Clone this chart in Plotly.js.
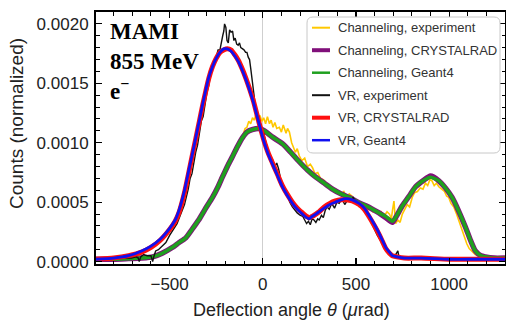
<!DOCTYPE html>
<html>
<head>
<meta charset="utf-8">
<script src="https://cdn.plot.ly/plotly-3.0.1.min.js"></script>
<style>html,body{margin:0;padding:0;background:#fff;}#chart{width:506px;height:322px;}</style>
</head>
<body>
<div id="chart"></div>
<script>
// ---------- data ----------
const legendNames = ["Channeling, experiment","Channeling, CRYSTALRAD","Channeling, Geant4","VR, experiment","VR, CRYSTALRAD","VR, Geant4"];
const xTickVals = [-500, 0, 500, 1000];
const yTickVals = [0, 0.0005, 0.0010, 0.0015, 0.0020];

// Channeling, experiment
const chanExpX = [-880,-800,-720,-650,-600,-560,-520,-490,-470,-450,-430,-410,-390,-370,-350,-330,-310,-295,-280,-265,-250,-235,-220,-205,-190,-175,-160,-145,-130,-118,-105,-95,-85,-75,-65,-55,-45,-35,-25,-15,-5,5,15,25,36,45,55,65,75,89,100,110,125,133,143,155,165,175,185,196,210,225,240,255,267,280,295,310,325,339,355,370,380,392,405,420,435,450,464,480,495,505,517,530,545,560,575,590,606,620,635,650,667,680,690,697,704,710,713,725,737,749,760,775,788,802,815,830,845,860,873,885,897,908,920,932,945,960,975,987,998,1010,1025,1040,1055,1068,1082,1095,1108,1121,1140,1160,1175,1200,1250,1290];
const chanExpY = [0.00002,0.00002,0.00003,0.00003,0.00004,0.00006,0.00009,0.00011,0.00015,0.00017,0.00019,0.00020,0.00024,0.00028,0.00033,0.00039,0.00045,0.00047,0.00053,0.00058,0.00060,0.00068,0.00073,0.00077,0.00083,0.00085,0.00092,0.00095,0.00101,0.00104,0.00107,0.00112,0.00113,0.00118,0.00116,0.00121,0.00119,0.00125,0.00120,0.00123,0.00118,0.00121,0.00116,0.00122,0.00116,0.00119,0.00113,0.00117,0.00112,0.00113,0.00109,0.00115,0.00108,0.00112,0.00109,0.00100,0.00096,0.00092,0.00095,0.00089,0.00085,0.00087,0.00080,0.00082,0.00079,0.00074,0.00075,0.00070,0.00069,0.00067,0.00064,0.00063,0.00060,0.00061,0.00058,0.00057,0.00059,0.00054,0.00057,0.00055,0.00050,0.00052,0.00046,0.00049,0.00045,0.00043,0.00045,0.00042,0.00043,0.00040,0.00042,0.00038,0.00042,0.00040,0.00036,0.00044,0.00051,0.00038,0.00032,0.00035,0.00033,0.00040,0.00043,0.00048,0.00046,0.00054,0.00058,0.00059,0.00062,0.00061,0.00066,0.00064,0.00069,0.00068,0.00064,0.00066,0.00063,0.00061,0.00059,0.00055,0.00054,0.00049,0.00046,0.00040,0.00033,0.00026,0.00020,0.00015,0.00011,0.00009,0.00006,0.00005,0.00005,0.00004,0.00003,0.00003];

// Channeling simulations
const chanSimX = [-895,-800,-720,-650,-591,-540,-484,-450,-413,-380,-344,-310,-270,-240,-217,-190,-164,-135,-110,-85,-57,-21,9,50,107,150,196,240,285,330,374,420,464,510,553,590,624,660,696,720,749,785,820,860,900,945,980,1016,1050,1088,1115,1141,1170,1195,1240,1300];
const chanCrystalradY = [0.00002,0.00002,0.000025,0.00003,0.00004,0.00007,0.00012,0.00016,0.00020,0.00027,0.00035,0.00044,0.00054,0.00063,0.00071,0.00080,0.00088,0.00097,0.00104,0.00109,0.00111,0.00112,0.00110,0.00105,0.00099,0.00092,0.00084,0.00077,0.00071,0.00066,0.00061,0.00057,0.00054,0.00050,0.00047,0.00044,0.00041,0.00037,0.00033,0.00039,0.00047,0.00055,0.00063,0.00068,0.00072,0.00068,0.00062,0.00054,0.00043,0.00029,0.00018,0.00009,0.00005,0.00004,0.00003,0.00003];
const chanGeant4Y = [0.00002,0.00002,0.000025,0.00003,0.00004,0.00007,0.00012,0.00016,0.00020,0.00027,0.00035,0.00044,0.00054,0.00063,0.00071,0.00080,0.00088,0.00097,0.00104,0.00109,0.00111,0.00112,0.00110,0.00105,0.00099,0.00092,0.00084,0.00077,0.00071,0.00066,0.00061,0.00057,0.00054,0.00050,0.00047,0.00044,0.00041,0.00038,0.00034,0.00039,0.00047,0.00055,0.00063,0.00068,0.00071,0.00068,0.00062,0.00054,0.00043,0.00029,0.00018,0.00009,0.00005,0.00004,0.00003,0.00003];

// VR, experiment
const vrExpX = [-880,-840,-800,-760,-730,-705,-680,-668,-663,-655,-640,-620,-600,-591,-585,-575,-560,-540,-520,-500,-480,-460,-440,-420,-400,-390,-380,-370,-360,-350,-340,-330,-320,-310,-300,-290,-280,-270,-260,-250,-240,-230,-222,-215,-209,-205,-198,-192,-185,-178,-170,-162,-155,-148,-140,-132,-125,-118,-108,-100,-92,-85,-78,-71,-65,-58,-50,-42,-35,-28,-20,-12,-5,5,15,25,36,45,55,65,75,85,95,105,115,125,135,145,159,172,185,200,215,225,235,245,255,265,275,285,295,303,315,325,335,345,357,370,385,398,410,425,440,455,470,485,500,517,535,550,570,590,615,635,651,670,690,710,725,732,745,800,900,1000,1100,1200,1280];
const vrExpY = [0.00002,0.00003,0.00002,0.00004,0.00003,0.00003,0.00004,0.00003,0.00000,0.00004,0.00006,0.00005,0.00005,0.00000,0.00004,0.00009,0.00010,0.00013,0.00016,0.00022,0.00027,0.00032,0.00040,0.00048,0.00061,0.00070,0.00074,0.00085,0.00092,0.00098,0.00110,0.00118,0.00122,0.00134,0.00142,0.00148,0.00158,0.00163,0.00170,0.00172,0.00178,0.00178,0.00186,0.00190,0.00194,0.00200,0.00197,0.00186,0.00184,0.00195,0.00193,0.00194,0.00186,0.00188,0.00183,0.00182,0.00184,0.00180,0.00179,0.00178,0.00176,0.00176,0.00172,0.00170,0.00163,0.00155,0.00146,0.00134,0.00125,0.00122,0.00117,0.00113,0.00110,0.00108,0.00100,0.00095,0.00090,0.00088,0.00085,0.00080,0.00083,0.00078,0.00070,0.00066,0.00062,0.00060,0.00055,0.00050,0.00046,0.00043,0.00041,0.00039,0.00038,0.00035,0.00032,0.00034,0.00031,0.00036,0.00035,0.00033,0.00036,0.00035,0.00039,0.00037,0.00043,0.00046,0.00044,0.00049,0.00045,0.00050,0.00049,0.00053,0.00048,0.00052,0.00051,0.00054,0.00050,0.00048,0.00045,0.00043,0.00037,0.00030,0.00022,0.00017,0.00012,0.00009,0.00006,0.00005,0.00009,0.00003,0.00003,0.00003,0.00002,0.00002,0.00002,0.00002,0.00002];

// VR simulations
const vrSimX = [-895,-800,-720,-650,-600,-550,-500,-470,-450,-420,-397,-380,-360,-340,-322,-305,-290,-270,-250,-230,-210,-190,-170,-150,-130,-110,-90,-70,-50,-30,-10,10,30,52,80,105,130,159,185,213,235,250,265,285,303,330,360,390,420,447,480,517,545,570,600,624,645,660,680,695,720,760,850,1000,1150,1300];
const vrCrystalradY = [0.00002,0.00003,0.00005,0.00008,0.00012,0.00018,0.00027,0.00034,0.00041,0.00058,0.00075,0.00088,0.00103,0.00118,0.00132,0.00144,0.00154,0.00164,0.00171,0.00176,0.00178,0.00179,0.00178,0.00174,0.00169,0.00162,0.00154,0.00145,0.00135,0.00123,0.00111,0.00100,0.00091,0.00083,0.00073,0.00064,0.00057,0.00050,0.00045,0.00041,0.00038,0.00037,0.00038,0.00040,0.00042,0.00046,0.00049,0.00051,0.00052,0.00052,0.00051,0.00048,0.00044,0.00038,0.00030,0.00023,0.00016,0.00011,0.00007,0.00005,0.00004,0.00003,0.00003,0.00002,0.00002,0.00002];
const vrGeant4Y = [0.00002,0.00003,0.00005,0.00009,0.00013,0.00019,0.00028,0.00035,0.00043,0.00060,0.00077,0.00089,0.00104,0.00119,0.00133,0.00145,0.00155,0.00164,0.00171,0.00176,0.00179,0.00179,0.00177,0.00173,0.00168,0.00161,0.00153,0.00144,0.00134,0.00122,0.00110,0.00099,0.00090,0.00082,0.00072,0.00063,0.00056,0.00049,0.00044,0.00040,0.00037,0.00036,0.00038,0.00040,0.00042,0.00045,0.00048,0.00050,0.00052,0.00053,0.00052,0.00049,0.00045,0.00039,0.00031,0.00024,0.00017,0.00012,0.00008,0.00005,0.00004,0.00003,0.00003,0.00002,0.00002,0.00002];

// ---------- styling ----------
const colors = ["#FFC800", "#80107A", "#1FA01F", "#111111", "#FF1010", "#1010F0"];
const widths = [1.6, 5.4, 3.6, 1.4, 5, 2.8];
const legendWidths = [2, 4, 2.5, 2, 4, 2.5];

const series = [
  {x: chanExpX, y: chanExpY, shape: "linear"},
  {x: chanSimX, y: chanCrystalradY, shape: "spline"},
  {x: chanSimX, y: chanGeant4Y, shape: "spline"},
  {x: vrExpX, y: vrExpY, shape: "linear"},
  {x: vrSimX, y: vrCrystalradY, shape: "spline"},
  {x: vrSimX, y: vrGeant4Y, shape: "spline"}
];
const traces = series.map((s, i) => ({
  type: "scatter", mode: "lines", x: s.x, y: s.y, name: legendNames[i],
  line: {color: colors[i], width: widths[i], shape: s.shape, smoothing: 0.6},
  showlegend: false, hoverinfo: "skip"
}));

// plot area in pixels
const L = 96, R = 505, T = 12, B = 264;
const px = v => (v - L) / (R - L);
const py = v => (B - v) / (B - T);

function roundRect(x0, y0, x1, y1, r) {
  const ax = px(x0), bx = px(x1), ay = py(y0), by = py(y1);
  const rx = r / (R - L), ry = r / (B - T);
  return `M${ax + rx},${ay} L${bx - rx},${ay} Q${bx},${ay} ${bx},${ay - ry} L${bx},${by + ry} Q${bx},${by} ${bx - rx},${by} L${ax + rx},${by} Q${ax},${by} ${ax},${by + ry} L${ax},${ay - ry} Q${ax},${ay} ${ax + rx},${ay} Z`;
}

const shapes = [{
  type: "path", xref: "paper", yref: "paper", layer: "above",
  path: roundRect(307, 17, 500, 153, 6),
  fillcolor: "#ffffff", line: {color: "#c8c8c8", width: 1}
}];
const annotations = [];
const rows = [27.7, 50.2, 72.7, 95.2, 117.7, 140.2];
legendNames.forEach((n, i) => {
  shapes.push({type: "line", xref: "paper", yref: "paper", layer: "above",
    x0: px(312), x1: px(330), y0: py(rows[i]), y1: py(rows[i]),
    line: {color: colors[i], width: legendWidths[i]}});
  annotations.push({xref: "paper", yref: "paper", x: px(336), y: py(rows[i]),
    xanchor: "left", yanchor: "middle", showarrow: false, text: n,
    font: {family: "Liberation Sans, Arial, sans-serif", size: 13, color: "#333"}});
});
annotations.push({xref: "paper", yref: "paper", x: px(108), y: py(17), xanchor: "left", yanchor: "top",
  align: "left", showarrow: false, text: "<b>MAMI<br>855 MeV<br>e<sup>−</sup></b>",
  font: {family: "Liberation Serif, Times New Roman, serif", size: 23, color: "#000"}});
annotations.push({xref: "paper", yref: "paper", x: px(291), y: py(310), xanchor: "center", yanchor: "middle",
  showarrow: false, text: "Deflection angle <i>θ</i> (<i>μ</i>rad)",
  font: {family: "Liberation Sans, Arial, sans-serif", size: 18, color: "#222"}});
annotations.push({xref: "paper", yref: "paper", x: px(16), y: py(124), xanchor: "center", yanchor: "middle",
  textangle: -90, showarrow: false, text: "Counts (normalized)",
  font: {family: "Liberation Sans, Arial, sans-serif", size: 19, color: "#222"}});

const axisCommon = {
  showline: true, linecolor: "#000", linewidth: 2, mirror: "ticks",
  ticks: "inside", ticklen: 6, tickwidth: 1.2, tickcolor: "#000",
  showgrid: false, tickfont: {family: "Liberation Sans, Arial, sans-serif", size: 17, color: "#222"}
};
const layout = {
  width: 506, height: 322,
  margin: {l: L, r: 506 - R, t: T, b: 322 - B},
  paper_bgcolor: "#fff", plot_bgcolor: "#fff",
  showlegend: false,
  xaxis: Object.assign({}, axisCommon, {
    range: [-895, 1300], tickvals: xTickVals, ticktext: xTickVals.map(v => v < 0 ? "−" + Math.abs(v) : String(v)),
    zeroline: true, zerolinecolor: "#cfcfcf", zerolinewidth: 1, ticklabelstandoff: 4,
    minor: {dtick: 100, ticks: "inside", ticklen: 3.5, tickcolor: "#000", tickwidth: 1}
  }),
  yaxis: Object.assign({}, axisCommon, {
    range: [-0.00002, 0.0021], tickvals: yTickVals, tickformat: ".4f", zeroline: false, ticklabelstandoff: 2,
    minor: {dtick: 0.0001, ticks: "inside", ticklen: 3.5, tickcolor: "#000", tickwidth: 1}
  }),
  shapes: shapes, annotations: annotations
};
Plotly.newPlot("chart", traces, layout, {staticPlot: true});
</script>
</body>
</html>
